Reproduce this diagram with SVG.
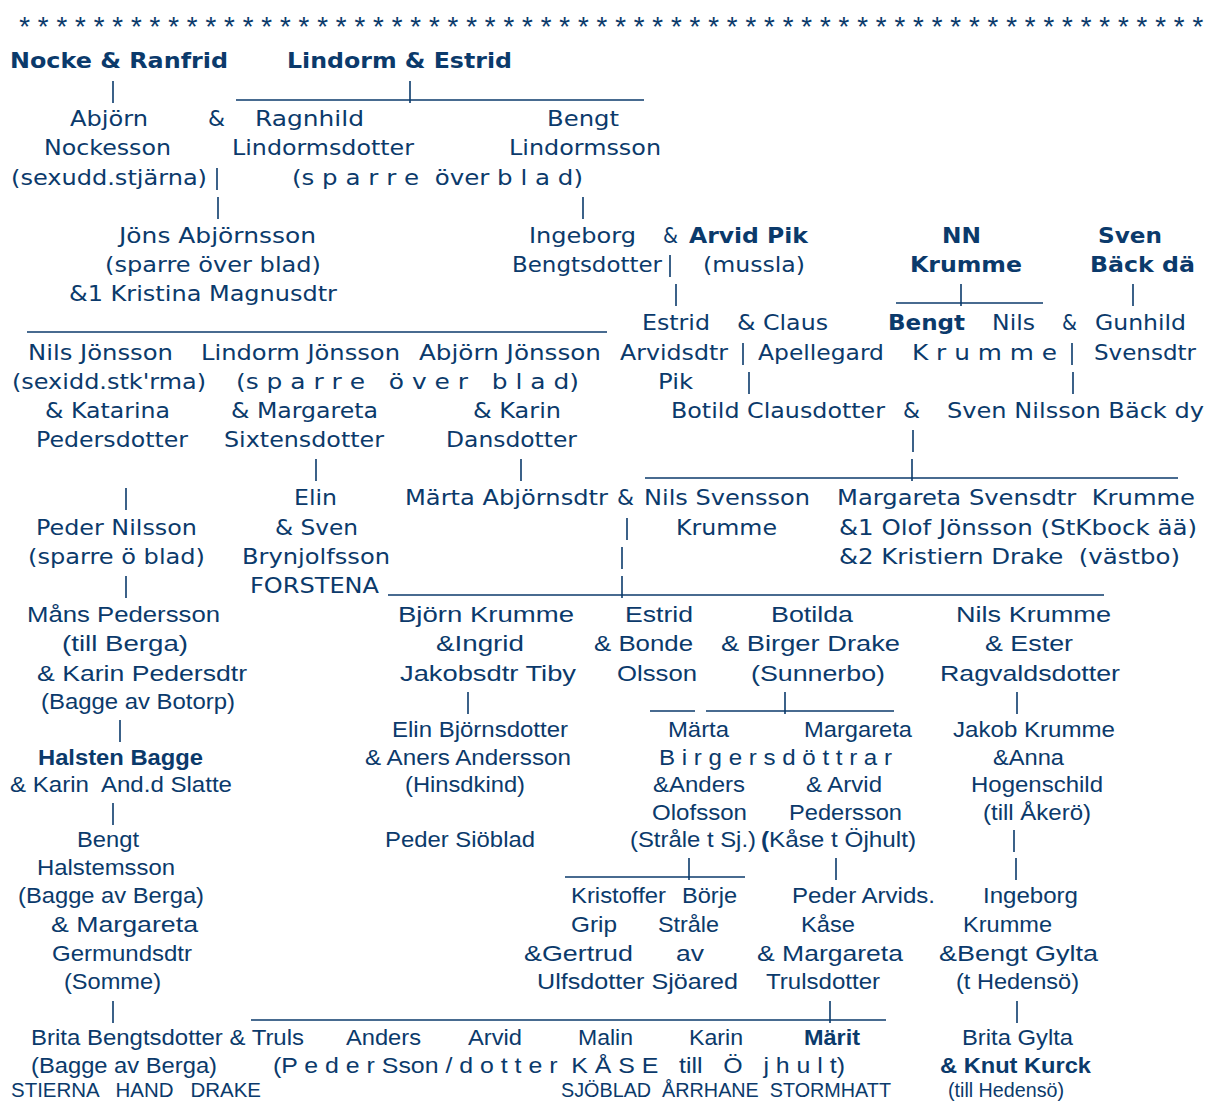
<svg xmlns="http://www.w3.org/2000/svg" width="1207" height="1102" viewBox="0 0 1207 1102">
<style>
text{fill:#0b3a6b;white-space:pre}
.t{font-family:"DejaVu Sans",sans-serif;font-size:21.5px}
.a{font-family:"Liberation Sans",Arial,sans-serif;font-size:22px}
.n{font-family:"Liberation Sans Narrow","Liberation Sans",Arial,sans-serif;font-size:20.5px}
.s{font-family:"Liberation Sans",Arial,sans-serif;font-size:27px;font-style:italic}
.b{font-weight:bold}
.c line{stroke:#0b3a6b;stroke-width:1.6}
</style>
<rect width="1207" height="1102" fill="#fff"/>
<text class="s" x="18" y="36" textLength="1184" lengthAdjust="spacingAndGlyphs">* * * * * * * * * * * * * * * * * * * * * * * * * * * * * * * * * * * * * * * * * * * * * * * * * * * * * * * * * * * * * * * *</text>

<g id="connectors" class="c">
<line x1="113" y1="81" x2="113" y2="103"/>
<line x1="236" y1="100" x2="644" y2="100"/>
<line x1="410" y1="81" x2="410" y2="103"/>
<line x1="217" y1="168" x2="217" y2="190"/>
<line x1="218" y1="197" x2="218" y2="219"/>
<line x1="583" y1="197" x2="583" y2="219"/>
<line x1="670" y1="255" x2="670" y2="277"/>
<line x1="676" y1="284" x2="676" y2="306"/>
<line x1="896" y1="303" x2="1043" y2="303"/>
<line x1="961" y1="284" x2="961" y2="306"/>
<line x1="1133" y1="284" x2="1133" y2="306"/>
<line x1="27" y1="332" x2="607" y2="332"/>
<line x1="743" y1="343" x2="743" y2="365"/>
<line x1="1072" y1="343" x2="1072" y2="365"/>
<line x1="749" y1="372" x2="749" y2="394"/>
<line x1="1073" y1="372" x2="1073" y2="394"/>
<line x1="913" y1="430" x2="913" y2="452"/>
<line x1="316" y1="459" x2="316" y2="481"/>
<line x1="521" y1="459" x2="521" y2="481"/>
<line x1="645" y1="478" x2="1178" y2="478"/>
<line x1="912" y1="459" x2="912" y2="481"/>
<line x1="126" y1="488" x2="126" y2="510"/>
<line x1="627" y1="518" x2="627" y2="540"/>
<line x1="622" y1="547" x2="622" y2="569"/>
<line x1="126" y1="576" x2="126" y2="598"/>
<line x1="388" y1="595" x2="1104" y2="595"/>
<line x1="622" y1="576" x2="622" y2="598"/>
<line x1="468" y1="692" x2="468" y2="714"/>
<line x1="650" y1="711" x2="695" y2="711"/>
<line x1="706" y1="711" x2="894" y2="711"/>
<line x1="785" y1="692" x2="785" y2="714"/>
<line x1="1017" y1="692" x2="1017" y2="714"/>
<line x1="120" y1="720" x2="120" y2="742"/>
<line x1="113" y1="803" x2="113" y2="825"/>
<line x1="1014" y1="830" x2="1014" y2="852"/>
<line x1="565" y1="877" x2="745" y2="877"/>
<line x1="689" y1="858" x2="689" y2="880"/>
<line x1="836" y1="858" x2="836" y2="880"/>
<line x1="1016" y1="858" x2="1016" y2="880"/>
<line x1="113" y1="1001" x2="113" y2="1023"/>
<line x1="251" y1="1020" x2="886" y2="1020"/>
<line x1="830" y1="1001" x2="830" y2="1023"/>
<line x1="1017" y1="1001" x2="1017" y2="1023"/>
</g>

<g id="nocke-ranfrid"><text class="t b" x="10" y="68" textLength="218" lengthAdjust="spacingAndGlyphs">Nocke &amp; Ranfrid</text></g>
<g id="lindorm-estrid"><text class="t b" x="287" y="68" textLength="225" lengthAdjust="spacingAndGlyphs">Lindorm &amp; Estrid</text></g>

<g id="abjorn-nockesson">
<text class="t" x="70" y="126" textLength="78" lengthAdjust="spacingAndGlyphs">Abjörn</text>
<text class="t" x="44" y="155" textLength="127" lengthAdjust="spacingAndGlyphs">Nockesson</text>
<text class="t" x="11" y="185" textLength="196" lengthAdjust="spacingAndGlyphs">(sexudd.stjärna)</text>
<text class="t" x="208" y="126" textLength="17" lengthAdjust="spacingAndGlyphs">&amp;</text>
</g>
<g id="ragnhild">
<text class="t" x="255" y="126" textLength="109" lengthAdjust="spacingAndGlyphs">Ragnhild</text>
<text class="t" x="232" y="155" textLength="182" lengthAdjust="spacingAndGlyphs">Lindormsdotter</text>
<text class="t" x="292" y="185" textLength="291" lengthAdjust="spacingAndGlyphs">(s p a r r e  över b l a d)</text>
</g>
<g id="bengt-lindormsson">
<text class="t" x="547" y="126" textLength="72" lengthAdjust="spacingAndGlyphs">Bengt</text>
<text class="t" x="509" y="155" textLength="152" lengthAdjust="spacingAndGlyphs">Lindormsson</text>
</g>

<g id="jons-abjornsson">
<text class="t" x="119" y="243" textLength="197" lengthAdjust="spacingAndGlyphs">Jöns Abjörnsson</text>
<text class="t" x="105" y="272" textLength="216" lengthAdjust="spacingAndGlyphs">(sparre över blad)</text>
<text class="t" x="69" y="301" textLength="268" lengthAdjust="spacingAndGlyphs">&amp;1 Kristina Magnusdtr</text>
</g>
<g id="ingeborg-bengtsdotter">
<text class="t" x="529" y="243" textLength="107" lengthAdjust="spacingAndGlyphs">Ingeborg</text>
<text class="t" x="512" y="272" textLength="150" lengthAdjust="spacingAndGlyphs">Bengtsdotter</text>
</g>
<g id="arvid-pik">
<text class="t" x="663" y="243" textLength="15" lengthAdjust="spacingAndGlyphs">&amp;</text>
<text class="t b" x="689" y="243" textLength="119" lengthAdjust="spacingAndGlyphs">Arvid Pik</text>
<text class="t" x="703" y="272" textLength="102" lengthAdjust="spacingAndGlyphs">(mussla)</text>
</g>
<g id="nn-krumme">
<text class="t b" x="942" y="243" textLength="39" lengthAdjust="spacingAndGlyphs">NN</text>
<text class="t b" x="910" y="272" textLength="112" lengthAdjust="spacingAndGlyphs">Krumme</text>
</g>
<g id="sven-back">
<text class="t b" x="1098" y="243" textLength="64" lengthAdjust="spacingAndGlyphs">Sven</text>
<text class="t b" x="1090" y="272" textLength="105" lengthAdjust="spacingAndGlyphs">Bäck dä</text>
</g>

<g id="estrid-arvidsdtr">
<text class="t" x="642" y="330" textLength="68" lengthAdjust="spacingAndGlyphs">Estrid</text>
<text class="t" x="620" y="360" textLength="108" lengthAdjust="spacingAndGlyphs">Arvidsdtr</text>
<text class="t" x="658" y="389" textLength="35" lengthAdjust="spacingAndGlyphs">Pik</text>
</g>
<g id="claus-apellegard">
<text class="t" x="737" y="330" textLength="91" lengthAdjust="spacingAndGlyphs">&amp; Claus</text>
<text class="t" x="758" y="360" textLength="126" lengthAdjust="spacingAndGlyphs">Apellegard</text>
</g>
<g id="bengt-krumme"><text class="t b" x="888" y="330" textLength="77" lengthAdjust="spacingAndGlyphs">Bengt</text></g>
<g id="nils-krumme">
<text class="t" x="992" y="330" textLength="43" lengthAdjust="spacingAndGlyphs">Nils</text>
<text class="t" x="912" y="360" textLength="145" lengthAdjust="spacingAndGlyphs">K r u m m e</text>
</g>
<g id="gunhild-svensdtr">
<text class="t" x="1062" y="330" textLength="15" lengthAdjust="spacingAndGlyphs">&amp;</text>
<text class="t" x="1095" y="330" textLength="91" lengthAdjust="spacingAndGlyphs">Gunhild</text>
<text class="t" x="1094" y="360" textLength="102" lengthAdjust="spacingAndGlyphs">Svensdtr</text>
</g>

<g id="nils-jonsson">
<text class="t" x="28" y="360" textLength="145" lengthAdjust="spacingAndGlyphs">Nils Jönsson</text>
<text class="t" x="12" y="389" textLength="194" lengthAdjust="spacingAndGlyphs">(sexidd.stk'rma)</text>
<text class="t" x="45" y="418" textLength="125" lengthAdjust="spacingAndGlyphs">&amp; Katarina</text>
<text class="t" x="36" y="447" textLength="152" lengthAdjust="spacingAndGlyphs">Pedersdotter</text>
</g>
<g id="lindorm-jonsson">
<text class="t" x="201" y="360" textLength="199" lengthAdjust="spacingAndGlyphs">Lindorm Jönsson</text>
<text class="t" x="236" y="389" textLength="343" lengthAdjust="spacingAndGlyphs">(s p a r r e   ö v e r   b l a d)</text>
<text class="t" x="231" y="418" textLength="147" lengthAdjust="spacingAndGlyphs">&amp; Margareta</text>
<text class="t" x="224" y="447" textLength="160" lengthAdjust="spacingAndGlyphs">Sixtensdotter</text>
</g>
<g id="abjorn-jonsson">
<text class="t" x="419" y="360" textLength="182" lengthAdjust="spacingAndGlyphs">Abjörn Jönsson</text>
<text class="t" x="473" y="418" textLength="88" lengthAdjust="spacingAndGlyphs">&amp; Karin</text>
<text class="t" x="446" y="447" textLength="131" lengthAdjust="spacingAndGlyphs">Dansdotter</text>
</g>
<g id="botild-sven">
<text class="t" x="671" y="418" textLength="214" lengthAdjust="spacingAndGlyphs">Botild Clausdotter</text>
<text class="t" x="903" y="418" textLength="17" lengthAdjust="spacingAndGlyphs">&amp;</text>
<text class="t" x="947" y="418" textLength="257" lengthAdjust="spacingAndGlyphs">Sven Nilsson Bäck dy</text>
</g>

<g id="peder-nilsson">
<text class="t" x="36" y="535" textLength="161" lengthAdjust="spacingAndGlyphs">Peder Nilsson</text>
<text class="t" x="28" y="564" textLength="177" lengthAdjust="spacingAndGlyphs">(sparre ö blad)</text>
</g>
<g id="elin">
<text class="t" x="294" y="505" textLength="43" lengthAdjust="spacingAndGlyphs">Elin</text>
<text class="t" x="275" y="535" textLength="83" lengthAdjust="spacingAndGlyphs">&amp; Sven</text>
<text class="t" x="242" y="564" textLength="148" lengthAdjust="spacingAndGlyphs">Brynjolfsson</text>
<text class="t" x="250" y="593" textLength="129" lengthAdjust="spacingAndGlyphs">FORSTENA</text>
</g>
<g id="marta-nils">
<text class="t" x="405" y="505" textLength="203" lengthAdjust="spacingAndGlyphs">Märta Abjörnsdtr</text>
<text class="t" x="617" y="505" textLength="17" lengthAdjust="spacingAndGlyphs">&amp;</text>
<text class="t" x="644" y="505" textLength="166" lengthAdjust="spacingAndGlyphs">Nils Svensson</text>
<text class="t" x="676" y="535" textLength="101" lengthAdjust="spacingAndGlyphs">Krumme</text>
</g>
<g id="margareta-svensdtr">
<text class="t" x="837" y="505" textLength="358" lengthAdjust="spacingAndGlyphs">Margareta Svensdtr  Krumme</text>
<text class="t" x="839" y="535" textLength="358" lengthAdjust="spacingAndGlyphs">&amp;1 Olof Jönsson (StKbock ää)</text>
<text class="t" x="839" y="564" textLength="341" lengthAdjust="spacingAndGlyphs">&amp;2 Kristiern Drake  (västbo)</text>
</g>

<g id="mans-pedersson">
<text class="a" x="27" y="622" textLength="193" lengthAdjust="spacingAndGlyphs">Måns Pedersson</text>
<text class="a" x="62" y="651" textLength="126" lengthAdjust="spacingAndGlyphs">(till Berga)</text>
<text class="a" x="37" y="681" textLength="210" lengthAdjust="spacingAndGlyphs">&amp; Karin Pedersdtr</text>
<text class="a" x="41" y="709" textLength="194" lengthAdjust="spacingAndGlyphs">(Bagge av Botorp)</text>
</g>
<g id="bjorn-krumme">
<text class="a" x="398" y="622" textLength="176" lengthAdjust="spacingAndGlyphs">Björn Krumme</text>
<text class="a" x="436" y="651" textLength="88" lengthAdjust="spacingAndGlyphs">&amp;Ingrid</text>
<text class="a" x="400" y="681" textLength="176" lengthAdjust="spacingAndGlyphs">Jakobsdtr Tiby</text>
</g>
<g id="estrid-bonde">
<text class="a" x="625" y="622" textLength="68" lengthAdjust="spacingAndGlyphs">Estrid</text>
<text class="a" x="594" y="651" textLength="99" lengthAdjust="spacingAndGlyphs">&amp; Bonde</text>
<text class="a" x="617" y="681" textLength="80" lengthAdjust="spacingAndGlyphs">Olsson</text>
</g>
<g id="botilda">
<text class="a" x="771" y="622" textLength="82" lengthAdjust="spacingAndGlyphs">Botilda</text>
<text class="a" x="721" y="651" textLength="179" lengthAdjust="spacingAndGlyphs">&amp; Birger Drake</text>
<text class="a" x="751" y="681" textLength="134" lengthAdjust="spacingAndGlyphs">(Sunnerbo)</text>
</g>
<g id="nils-krumme-ester">
<text class="a" x="956" y="622" textLength="155" lengthAdjust="spacingAndGlyphs">Nils Krumme</text>
<text class="a" x="985" y="651" textLength="88" lengthAdjust="spacingAndGlyphs">&amp; Ester</text>
<text class="a" x="940" y="681" textLength="180" lengthAdjust="spacingAndGlyphs">Ragvaldsdotter</text>
</g>

<g id="halsten-bagge">
<text class="a b" x="38" y="765" textLength="165" lengthAdjust="spacingAndGlyphs">Halsten Bagge</text>
<text class="a" x="10" y="792" textLength="222" lengthAdjust="spacingAndGlyphs">&amp; Karin  And.d Slatte</text>
</g>
<g id="elin-bjornsdotter">
<text class="a" x="392" y="737" textLength="176" lengthAdjust="spacingAndGlyphs">Elin Björnsdotter</text>
<text class="a" x="365" y="765" textLength="206" lengthAdjust="spacingAndGlyphs">&amp; Aners Andersson</text>
<text class="a" x="405" y="792" textLength="120" lengthAdjust="spacingAndGlyphs">(Hinsdkind)</text>
</g>
<g id="peder-sioblad"><text class="a" x="385" y="847" textLength="150" lengthAdjust="spacingAndGlyphs">Peder Siöblad</text></g>
<g id="birgersdottrar">
<text class="a" x="668" y="737" textLength="61" lengthAdjust="spacingAndGlyphs">Märta</text>
<text class="a" x="804" y="737" textLength="108" lengthAdjust="spacingAndGlyphs">Margareta</text>
<text class="a" x="659" y="765" textLength="233" lengthAdjust="spacingAndGlyphs">B i r g e r s d ö t t r a r</text>
</g>
<g id="anders-olofsson">
<text class="a" x="653" y="792" textLength="92" lengthAdjust="spacingAndGlyphs">&amp;Anders</text>
<text class="a" x="652" y="820" textLength="95" lengthAdjust="spacingAndGlyphs">Olofsson</text>
<text class="a" x="630" y="847" textLength="126" lengthAdjust="spacingAndGlyphs">(Stråle t Sj.)</text>
</g>
<g id="arvid-pedersson">
<text class="a" x="806" y="792" textLength="76" lengthAdjust="spacingAndGlyphs">&amp; Arvid</text>
<text class="a" x="789" y="820" textLength="113" lengthAdjust="spacingAndGlyphs">Pedersson</text>
<text class="a" x="761" y="847" textLength="155" lengthAdjust="spacingAndGlyphs"><tspan font-weight="bold">(</tspan>Kåse t Öjhult)</text>
</g>
<g id="jakob-krumme">
<text class="a" x="953" y="737" textLength="162" lengthAdjust="spacingAndGlyphs">Jakob Krumme</text>
<text class="a" x="993" y="765" textLength="71" lengthAdjust="spacingAndGlyphs">&amp;Anna</text>
<text class="a" x="971" y="792" textLength="132" lengthAdjust="spacingAndGlyphs">Hogenschild</text>
<text class="a" x="983" y="820" textLength="108" lengthAdjust="spacingAndGlyphs">(till Åkerö)</text>
</g>

<g id="bengt-halstemsson">
<text class="a" x="77" y="847" textLength="62" lengthAdjust="spacingAndGlyphs">Bengt</text>
<text class="a" x="37" y="875" textLength="138" lengthAdjust="spacingAndGlyphs">Halstemsson</text>
<text class="a" x="18" y="903" textLength="186" lengthAdjust="spacingAndGlyphs">(Bagge av Berga)</text>
<text class="a" x="51" y="932" textLength="147" lengthAdjust="spacingAndGlyphs">&amp; Margareta</text>
<text class="a" x="52" y="961" textLength="140" lengthAdjust="spacingAndGlyphs">Germundsdtr</text>
<text class="a" x="64" y="989" textLength="97" lengthAdjust="spacingAndGlyphs">(Somme)</text>
</g>
<g id="kristoffer-grip">
<text class="a" x="571" y="903" textLength="95" lengthAdjust="spacingAndGlyphs">Kristoffer</text>
<text class="a" x="571" y="932" textLength="46" lengthAdjust="spacingAndGlyphs">Grip</text>
<text class="a" x="524" y="961" textLength="109" lengthAdjust="spacingAndGlyphs">&amp;Gertrud</text>
<text class="a" x="537" y="989" textLength="201" lengthAdjust="spacingAndGlyphs">Ulfsdotter Sjöared</text>
</g>
<g id="borje-strale">
<text class="a" x="682" y="903" textLength="55" lengthAdjust="spacingAndGlyphs">Börje</text>
<text class="a" x="658" y="932" textLength="61" lengthAdjust="spacingAndGlyphs">Stråle</text>
<text class="a" x="676" y="961" textLength="28" lengthAdjust="spacingAndGlyphs">av</text>
</g>
<g id="peder-arvids">
<text class="a" x="792" y="903" textLength="143" lengthAdjust="spacingAndGlyphs">Peder Arvids.</text>
<text class="a" x="801" y="932" textLength="54" lengthAdjust="spacingAndGlyphs">Kåse</text>
<text class="a" x="757" y="961" textLength="146" lengthAdjust="spacingAndGlyphs">&amp; Margareta</text>
<text class="a" x="766" y="989" textLength="114" lengthAdjust="spacingAndGlyphs">Trulsdotter</text>
</g>
<g id="ingeborg-krumme">
<text class="a" x="983" y="903" textLength="95" lengthAdjust="spacingAndGlyphs">Ingeborg</text>
<text class="a" x="963" y="932" textLength="89" lengthAdjust="spacingAndGlyphs">Krumme</text>
<text class="a" x="939" y="961" textLength="159" lengthAdjust="spacingAndGlyphs">&amp;Bengt Gylta</text>
<text class="a" x="956" y="989" textLength="123" lengthAdjust="spacingAndGlyphs">(t Hedensö)</text>
</g>

<g id="brita-bengtsdotter">
<text class="a" x="31" y="1045" textLength="273" lengthAdjust="spacingAndGlyphs">Brita Bengtsdotter &amp; Truls</text>
<text class="a" x="31" y="1073" textLength="186" lengthAdjust="spacingAndGlyphs">(Bagge av Berga)</text>
<text class="n" x="11" y="1097" textLength="250" lengthAdjust="spacingAndGlyphs">STIERNA   HAND   DRAKE</text>
</g>
<g id="kase-children">
<text class="a" x="346" y="1045" textLength="75" lengthAdjust="spacingAndGlyphs">Anders</text>
<text class="a" x="468" y="1045" textLength="54" lengthAdjust="spacingAndGlyphs">Arvid</text>
<text class="a" x="578" y="1045" textLength="55" lengthAdjust="spacingAndGlyphs">Malin</text>
<text class="a" x="689" y="1045" textLength="54" lengthAdjust="spacingAndGlyphs">Karin</text>
<text class="a b" x="804" y="1045" textLength="56" lengthAdjust="spacingAndGlyphs">Märit</text>
<text class="a" x="273" y="1073" textLength="572" lengthAdjust="spacingAndGlyphs">(P e d e r Sson / d o t t e r  K Å S E   till   Ö   j h u l t)</text>
<text class="n" x="561" y="1097" textLength="330" lengthAdjust="spacingAndGlyphs">SJÖBLAD  ÅRRHANE  STORMHATT</text>
</g>
<g id="brita-gylta">
<text class="a" x="962" y="1045" textLength="111" lengthAdjust="spacingAndGlyphs">Brita Gylta</text>
<text class="a b" x="940" y="1073" textLength="151" lengthAdjust="spacingAndGlyphs">&amp; Knut Kurck</text>
<text class="n" x="948" y="1097" textLength="116" lengthAdjust="spacingAndGlyphs">(till Hedensö)</text>
</g>
</svg>
